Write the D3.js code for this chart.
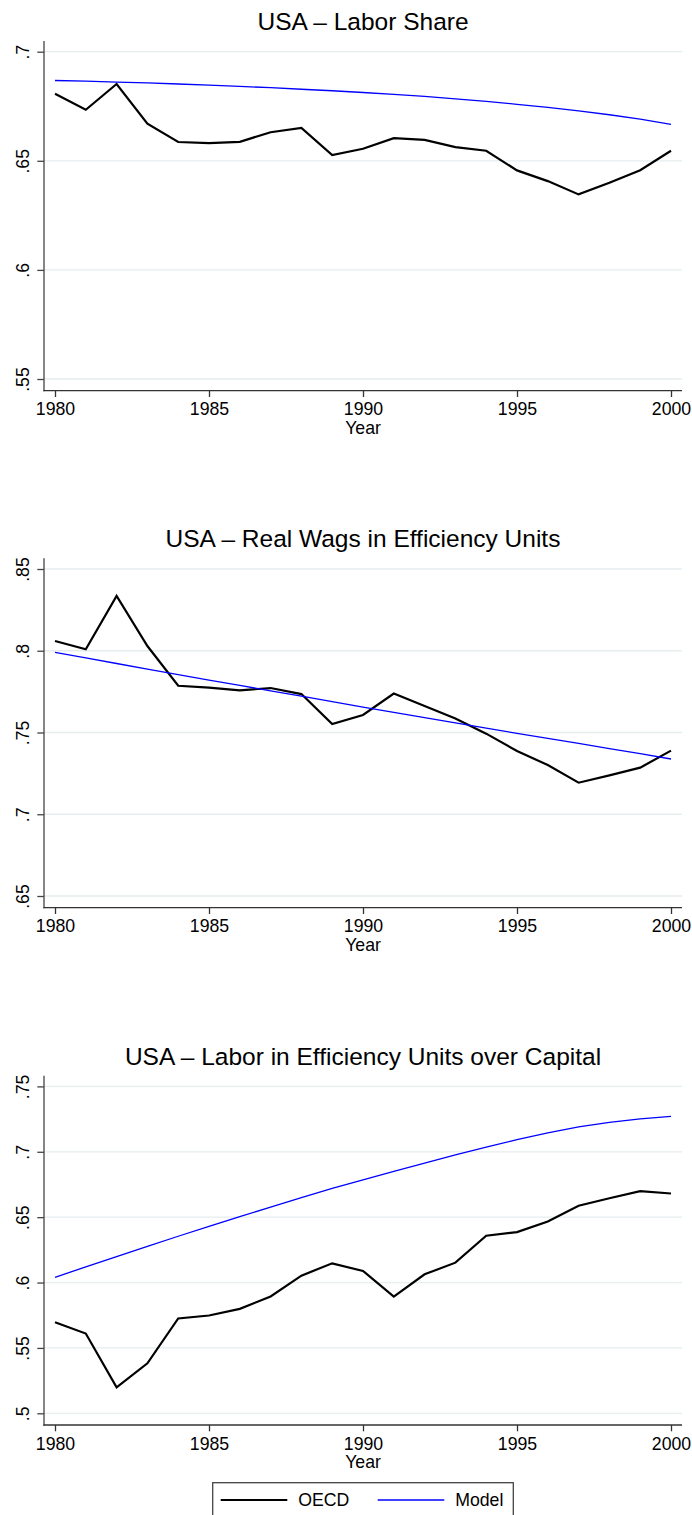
<!DOCTYPE html>
<html>
<head>
<meta charset="utf-8">
<script src="https://cdn.jsdelivr.net/npm/d3@7"></script>
<style>
  html, body { margin: 0; padding: 0; background: #fff; overflow: hidden; }
  svg { display: block; }
  text { font-family: "Liberation Sans", Arial, Helvetica, sans-serif; fill: #000; }
</style>
</head>
<body>
<svg id="chart" width="692" height="1515"></svg>
<script>
// ---------------- DATA ----------------
const years = [1980,1981,1982,1983,1984,1985,1986,1987,1988,1989,1990,
               1991,1992,1993,1994,1995,1996,1997,1998,1999,2000];
const xTicks = [1980,1985,1990,1995,2000];

const titles = ["USA \u2013 Labor Share",
                "USA \u2013 Real Wags in Efficiency Units",
                "USA \u2013 Labor in Efficiency Units over Capital"];

const laborShareOECD  = [.6807,.6734,.6852,.6670,.6586,.6581,.6587,.6631,.6651,.6526,.6555,
                         .6604,.6596,.6563,.6546,.6456,.6407,.6346,.6399,.6457,.6546];
const laborShareModel = [.6868,.6865,.6861,.6857,.6852,.6847,.6841,.6835,.6828,.6821,.6813,
                         .6804,.6795,.6784,.6772,.6759,.6745,.6729,.6711,.6691,.6667];
const laborShareTicks = [.55,.6,.65,.7];

const wageOECD  = [.8060,.8009,.8335,.8029,.7786,.7774,.7758,.7772,.7735,.7552,.7607,
                   .7738,.7662,.7585,.7493,.7387,.7301,.7193,.7238,.7285,.7389];
const wageModel = [.7990,.7956,.7922,.7888,.7854,.7821,.7788,.7755,.7722,.7689,.7655,
                   .7623,.7591,.7559,.7527,.7495,.7464,.7433,.7402,.7371,.7338];
const wageTicks = [.65,.7,.75,.8,.85];

const ratioOECD  = [.5697,.5610,.5198,.5382,.5725,.5748,.5799,.5893,.6053,.6147,.6089,
                    .5893,.6063,.6152,.6358,.6386,.6467,.6587,.6645,.6699,.6681];
const ratioModel = [.6040,.6120,.6199,.6277,.6354,.6430,.6504,.6577,.6650,.6720,.6786,
                    .6850,.6914,.6976,.7036,.7093,.7145,.7190,.7225,.7252,.7271];
const ratioTicks = [.5,.55,.6,.65,.7,.75];

const seriesNames = ["OECD","Model"];
const seriesColors = ["#000000","#0000ff"];
const xLabel = "Year";

// ---------------- LAYOUT ----------------
const panels = [
  {title: titles[0], oecd: laborShareOECD, model: laborShareModel, ticks: laborShareTicks, top: 41,    bottom: 390.7},
  {title: titles[1], oecd: wageOECD,       model: wageModel,       ticks: wageTicks,       top: 558.3, bottom: 907.7},
  {title: titles[2], oecd: ratioOECD,      model: ratioModel,      ticks: ratioTicks,      top: 1075.7, bottom: 1425}
];

const svg = d3.select("#chart");
const left = 44, right = 682;
const x = d3.scaleLinear().domain([1980, 2000]).range([55, 671]);
const fmt = v => String(v).replace(/^0\./, ".");
const smallFont = 17.7;

panels.forEach(p => {
  const tMin = d3.min(p.ticks), tMax = d3.max(p.ticks);
  const y = d3.scaleLinear().domain([tMin, tMax]).range([p.bottom - 11.7, p.top + 10.7]);
  const g = svg.append("g");

  // gridlines
  g.selectAll("line.grid").data(p.ticks).enter().append("line")
    .attr("class","grid")
    .attr("x1", left).attr("x2", right)
    .attr("y1", d => y(d)).attr("y2", d => y(d))
    .attr("stroke", "#e6eef0").attr("stroke-width", 1.3);

  // title
  g.append("text")
    .attr("x", (left + right) / 2).attr("y", p.top - 11)
    .attr("text-anchor", "middle")
    .style("font-size", "24.5px")
    .text(p.title);

  // y axis
  const yAxis = d3.axisLeft(y).tickValues(p.ticks).tickSize(6.7).tickSizeOuter(0).tickFormat(fmt);
  const ya = g.append("g").attr("transform", `translate(${left},0)`).call(yAxis);
  ya.select(".domain").remove();
  ya.selectAll(".tick line").attr("stroke", "#444").attr("stroke-width", 1.3);
  ya.selectAll(".tick text")
    .attr("x", null).attr("dy", null).attr("y", null)
    .attr("transform", "translate(-15.5,0) rotate(-90)")
    .attr("text-anchor", "middle")
    .style("font-size", smallFont + "px")
    .style("font-family", '"Liberation Sans", Arial, sans-serif')
    .attr("fill", "#000");
  g.append("line")
    .attr("x1", left).attr("x2", left).attr("y1", p.top).attr("y2", p.bottom + 0.65)
    .attr("stroke", "#444").attr("stroke-width", 1.3);

  // x axis
  const xAxis = d3.axisBottom(x).tickValues(xTicks).tickSize(6.3).tickSizeOuter(0).tickFormat(d3.format("d"));
  const xa = g.append("g").attr("transform", `translate(0,${p.bottom})`).call(xAxis);
  xa.select(".domain").remove();
  xa.selectAll(".tick line").attr("stroke", "#333").attr("stroke-width", 1.3);
  xa.selectAll(".tick text")
    .attr("dy", null).attr("y", 24.5)
    .style("font-size", smallFont + "px")
    .style("font-family", '"Liberation Sans", Arial, sans-serif')
    .attr("fill", "#000");
  g.append("line")
    .attr("x1", left - 0.65).attr("x2", right).attr("y1", p.bottom).attr("y2", p.bottom)
    .attr("stroke", "#333").attr("stroke-width", 1.3);

  g.append("text")
    .attr("x", (left + right) / 2).attr("y", p.bottom + 43)
    .attr("text-anchor", "middle")
    .style("font-size", smallFont + "px")
    .text(xLabel);

  // lines
  const line = d3.line().x((d, i) => x(years[i])).y(d => y(d));
  g.append("path").datum(p.oecd)
    .attr("d", line).attr("fill", "none")
    .attr("stroke", seriesColors[0]).attr("stroke-width", 2.2)
    .attr("stroke-linejoin", "miter");
  g.append("path").datum(p.model)
    .attr("d", line).attr("fill", "none")
    .attr("stroke", seriesColors[1]).attr("stroke-width", 1.3);
});

// legend
const lg = svg.append("g");
lg.append("rect")
  .attr("x", 212.7).attr("y", 1482.7).attr("width", 300.6).attr("height", 45)
  .attr("fill", "#fff").attr("stroke", "#444").attr("stroke-width", 1.3);
const legendItems = [
  {name: seriesNames[0], color: seriesColors[0], w: 2.2, x0: 220.7},
  {name: seriesNames[1], color: seriesColors[1], w: 1.3, x0: 377.7}
];
legendItems.forEach(it => {
  lg.append("line")
    .attr("x1", it.x0).attr("x2", it.x0 + 66.6)
    .attr("y1", 1500).attr("y2", 1500)
    .attr("stroke", it.color).attr("stroke-width", it.w);
  lg.append("text")
    .attr("x", it.x0 + 77.5).attr("y", 1506.2)
    .style("font-size", smallFont + "px")
    .text(it.name);
});
</script>
</body>
</html>
